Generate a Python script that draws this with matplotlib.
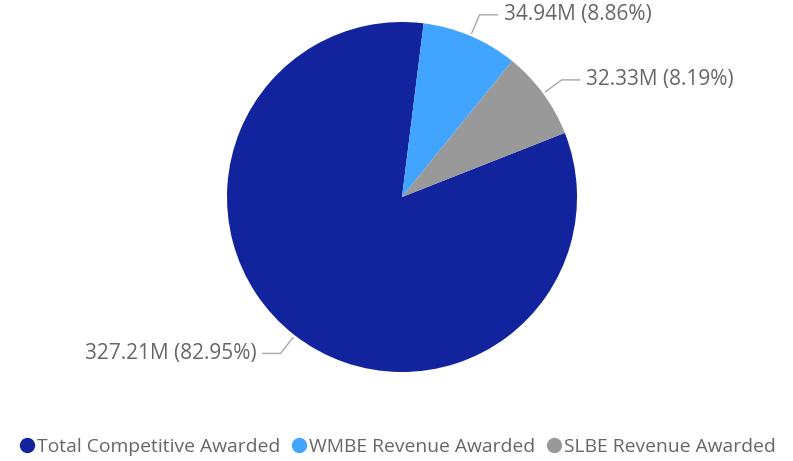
import numpy as np
import matplotlib.pyplot as plt
from matplotlib.lines import Line2D

categories = ["Total Competitive Awarded", "WMBE Revenue Awarded", "SLBE Revenue Awarded"]
values = [327.21, 34.94, 32.33]
labels = ["327.21M (82.95%)", "34.94M (8.86%)", "32.33M (8.19%)"]
colors = ["#12239E", "#41A5FF", "#999999"]

plt.rcParams['font.family'] = ['Open Sans', 'DejaVu Sans']

fig = plt.figure(figsize=(7.93, 4.61), dpi=100)
ax = fig.add_axes([0, 0, 1, 1])

cx, cy, r = 402, 197, 175
# y axis points down, so counterclock in data runs clockwise on screen
wedges, _ = ax.pie(values, colors=colors, center=(cx, cy), radius=r,
                   startangle=-21.5, counterclock=True,
                   wedgeprops=dict(linewidth=0), frame=True)
ax.set_xlim(0, 793)
ax.set_ylim(461, 0)
ax.set_aspect('equal')
ax.axis('off')

for w, lab in zip(wedges, labels):
    mid = np.deg2rad((w.theta1 + w.theta2) / 2)
    x0, y0 = cx + 178 * np.cos(mid), cy + 178 * np.sin(mid)
    x1, y1 = cx + 198 * np.cos(mid), cy + 198 * np.sin(mid)
    side = 1 if np.cos(mid) >= 0 else -1
    x2 = x1 + side * 18
    ax.plot([x0, x1, x2], [y0, y1, y1], color="#A8A8A8", lw=1)
    ax.text(x2 + side * 6, y1, lab, ha='left' if side > 0 else 'right',
            va='center', fontsize=15, color="#666666")

handles = [Line2D([], [], marker='o', ls='', markersize=10, color=c) for c in colors]
fig.legend(handles, categories, loc='center', bbox_to_anchor=(0.5, 1 - 447 / 461),
           ncol=3, frameon=False, fontsize=13.9, handletextpad=0.0,
           columnspacing=0.5, labelcolor="#666666", handlelength=1.0)

fig.savefig("out.png", dpi=100)
